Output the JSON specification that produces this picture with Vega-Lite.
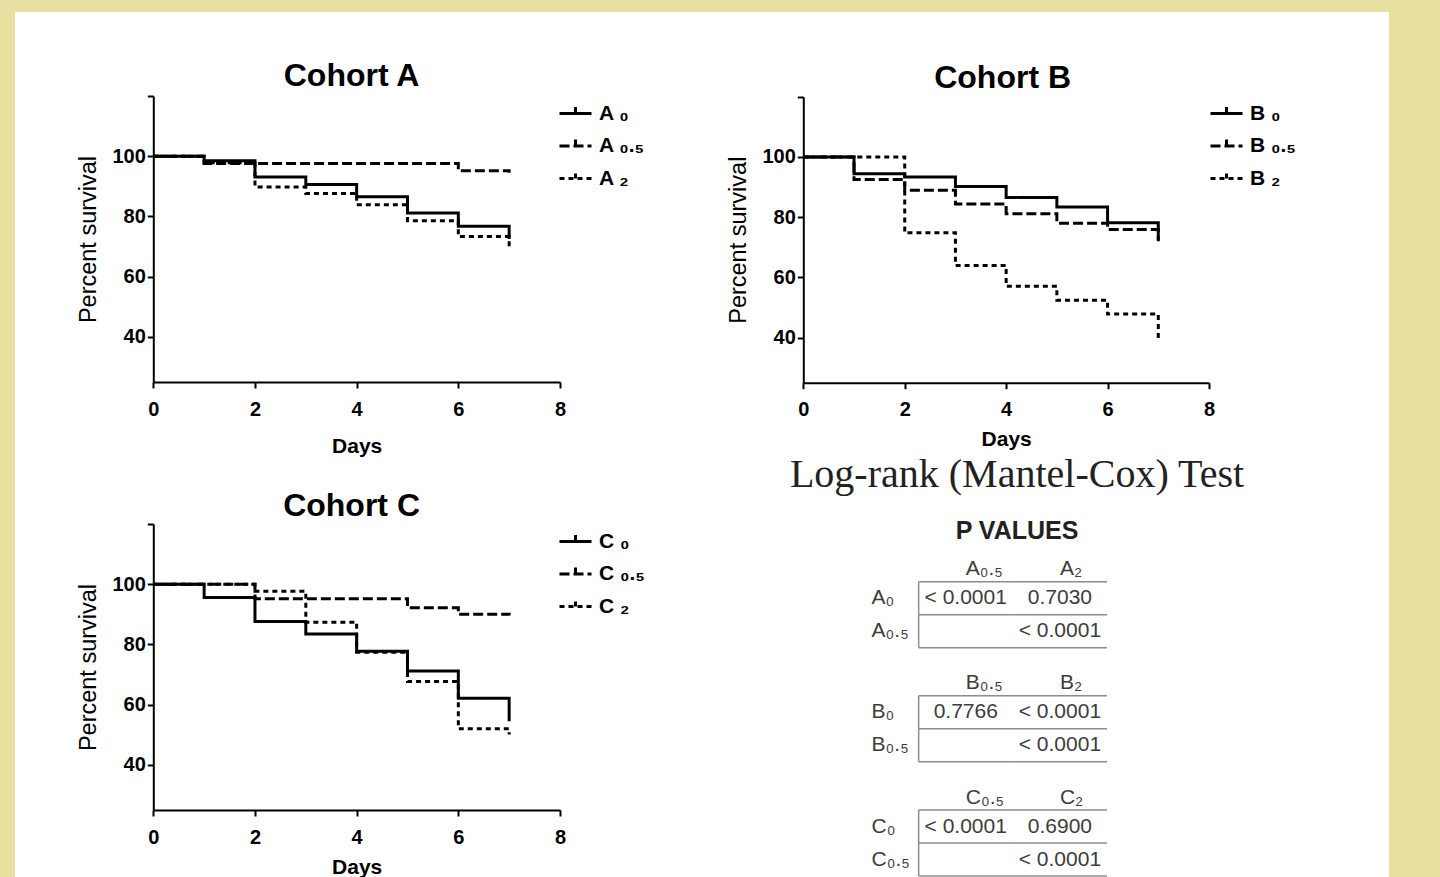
{
  "$schema": "https://vega.github.io/schema/vega-lite/v6.json",
  "width": 1374,
  "height": 865,
  "autosize": {"type": "none"},
  "padding": {"left": 15, "top": 12, "right": 51, "bottom": 0},
  "background": "#e8e0a0",
  "title": {
    "text": "Log-rank (Mantel-Cox) Test",
    "subtitle": "P VALUES",
    "orient": "top",
    "anchor": "middle",
    "frame": "group",
    "offset": -532,
    "dx": 315,
    "font": "Liberation Serif",
    "fontSize": 40,
    "fontWeight": "normal",
    "color": "#222222",
    "subtitleFont": "Liberation Sans",
    "subtitleFontSize": 25,
    "subtitleFontWeight": "bold",
    "subtitleColor": "#222222",
    "subtitlePadding": 24
  },
  "datasets": {
    "survival": [
      {"cohort": "A", "group": "A0", "day": 0, "survival": 100},
      {"cohort": "A", "group": "A0", "day": 1, "survival": 98.5},
      {"cohort": "A", "group": "A0", "day": 2, "survival": 93.1},
      {"cohort": "A", "group": "A0", "day": 3, "survival": 90.6},
      {"cohort": "A", "group": "A0", "day": 4, "survival": 86.5},
      {"cohort": "A", "group": "A0", "day": 5, "survival": 81.1},
      {"cohort": "A", "group": "A0", "day": 6, "survival": 76.7},
      {"cohort": "A", "group": "A0", "day": 7, "survival": 72.5},
      {"cohort": "A", "group": "A0.5", "day": 0, "survival": 100},
      {"cohort": "A", "group": "A0.5", "day": 1, "survival": 97.6},
      {"cohort": "A", "group": "A0.5", "day": 6, "survival": 95.2},
      {"cohort": "A", "group": "A0.5", "day": 7, "survival": 94.5},
      {"cohort": "A", "group": "A2", "day": 0, "survival": 100},
      {"cohort": "A", "group": "A2", "day": 1, "survival": 97.8},
      {"cohort": "A", "group": "A2", "day": 2, "survival": 89.8},
      {"cohort": "A", "group": "A2", "day": 3, "survival": 87.6},
      {"cohort": "A", "group": "A2", "day": 4, "survival": 83.9},
      {"cohort": "A", "group": "A2", "day": 5, "survival": 78.6},
      {"cohort": "A", "group": "A2", "day": 6, "survival": 73.3},
      {"cohort": "A", "group": "A2", "day": 7, "survival": 69.5},
      {"cohort": "B", "group": "B0", "day": 0, "survival": 100},
      {"cohort": "B", "group": "B0", "day": 1, "survival": 94.4},
      {"cohort": "B", "group": "B0", "day": 2, "survival": 93.3},
      {"cohort": "B", "group": "B0", "day": 3, "survival": 90.2},
      {"cohort": "B", "group": "B0", "day": 4, "survival": 86.5},
      {"cohort": "B", "group": "B0", "day": 5, "survival": 83.4},
      {"cohort": "B", "group": "B0", "day": 6, "survival": 78.1},
      {"cohort": "B", "group": "B0", "day": 7, "survival": 72.5},
      {"cohort": "B", "group": "B0.5", "day": 0, "survival": 100},
      {"cohort": "B", "group": "B0.5", "day": 1, "survival": 92.5},
      {"cohort": "B", "group": "B0.5", "day": 2, "survival": 88.9},
      {"cohort": "B", "group": "B0.5", "day": 3, "survival": 84.4},
      {"cohort": "B", "group": "B0.5", "day": 4, "survival": 81.1},
      {"cohort": "B", "group": "B0.5", "day": 5, "survival": 78},
      {"cohort": "B", "group": "B0.5", "day": 6, "survival": 75.9},
      {"cohort": "B", "group": "B0.5", "day": 7, "survival": 72},
      {"cohort": "B", "group": "B2", "day": 0, "survival": 100},
      {"cohort": "B", "group": "B2", "day": 2, "survival": 74.8},
      {"cohort": "B", "group": "B2", "day": 3, "survival": 63.9},
      {"cohort": "B", "group": "B2", "day": 4, "survival": 57},
      {"cohort": "B", "group": "B2", "day": 5, "survival": 52.4},
      {"cohort": "B", "group": "B2", "day": 6, "survival": 47.8},
      {"cohort": "B", "group": "B2", "day": 7, "survival": 38.9},
      {"cohort": "C", "group": "C0", "day": 0, "survival": 100},
      {"cohort": "C", "group": "C0", "day": 1, "survival": 95.6},
      {"cohort": "C", "group": "C0", "day": 2, "survival": 87.6},
      {"cohort": "C", "group": "C0", "day": 3, "survival": 83.5},
      {"cohort": "C", "group": "C0", "day": 4, "survival": 77.7},
      {"cohort": "C", "group": "C0", "day": 5, "survival": 71.2},
      {"cohort": "C", "group": "C0", "day": 6, "survival": 62.1},
      {"cohort": "C", "group": "C0", "day": 7, "survival": 54.5},
      {"cohort": "C", "group": "C0.5", "day": 0, "survival": 100},
      {"cohort": "C", "group": "C0.5", "day": 2, "survival": 95.2},
      {"cohort": "C", "group": "C0.5", "day": 5, "survival": 92.2},
      {"cohort": "C", "group": "C0.5", "day": 6, "survival": 90},
      {"cohort": "C", "group": "C0.5", "day": 7, "survival": 89.6},
      {"cohort": "C", "group": "C2", "day": 0, "survival": 100},
      {"cohort": "C", "group": "C2", "day": 2, "survival": 97.7},
      {"cohort": "C", "group": "C2", "day": 3, "survival": 87.4},
      {"cohort": "C", "group": "C2", "day": 4, "survival": 77.4},
      {"cohort": "C", "group": "C2", "day": 5, "survival": 67.7},
      {"cohort": "C", "group": "C2", "day": 6, "survival": 52},
      {"cohort": "C", "group": "C2", "day": 7, "survival": 50.1}
    ],
    "titles": [
      {"cohort": "A", "title": "Cohort A"},
      {"cohort": "B", "title": "Cohort B"},
      {"cohort": "C", "title": "Cohort C"}
    ],
    "pvalues": [
      {"cohort": "A", "row": "h", "col": "c1", "text": "A₀.₅"},
      {"cohort": "A", "row": "h", "col": "c2", "text": "A₂"},
      {"cohort": "A", "row": "r1", "col": "lab", "text": "A₀"},
      {"cohort": "A", "row": "r1", "col": "c1", "text": "< 0.0001"},
      {"cohort": "A", "row": "r1", "col": "c2", "text": "0.7030"},
      {"cohort": "A", "row": "r2", "col": "lab", "text": "A₀.₅"},
      {"cohort": "A", "row": "r2", "col": "c1", "text": ""},
      {"cohort": "A", "row": "r2", "col": "c2", "text": "< 0.0001"},
      {"cohort": "B", "row": "h", "col": "c1", "text": "B₀.₅"},
      {"cohort": "B", "row": "h", "col": "c2", "text": "B₂"},
      {"cohort": "B", "row": "r1", "col": "lab", "text": "B₀"},
      {"cohort": "B", "row": "r1", "col": "c1", "text": "0.7766"},
      {"cohort": "B", "row": "r1", "col": "c2", "text": "< 0.0001"},
      {"cohort": "B", "row": "r2", "col": "lab", "text": "B₀.₅"},
      {"cohort": "B", "row": "r2", "col": "c1", "text": ""},
      {"cohort": "B", "row": "r2", "col": "c2", "text": "< 0.0001"},
      {"cohort": "C", "row": "h", "col": "c1", "text": "C₀.₅"},
      {"cohort": "C", "row": "h", "col": "c2", "text": "C₂"},
      {"cohort": "C", "row": "r1", "col": "lab", "text": "C₀"},
      {"cohort": "C", "row": "r1", "col": "c1", "text": "< 0.0001"},
      {"cohort": "C", "row": "r1", "col": "c2", "text": "0.6900"},
      {"cohort": "C", "row": "r2", "col": "lab", "text": "C₀.₅"},
      {"cohort": "C", "row": "r2", "col": "c1", "text": ""},
      {"cohort": "C", "row": "r2", "col": "c2", "text": "< 0.0001"}
    ]
  },
  "layer": [
    {
      "data": {"name": "survival"},
      "transform": [{"filter": "datum.cohort == 'A'"}],
      "mark": {"type": "line", "interpolate": "step-after", "strokeWidth": 3, "color": "black"},
      "encoding": {
        "x": {"field": "day", "type": "quantitative", "scale": {"domain": [0, 8], "range": [138.3, 545], "nice": false},
              "axis": {"orient": "bottom", "offset": -495, "values": [0, 2, 4, 6, 8], "title": "Days", "titlePadding": 16}},
        "y": {"field": "survival", "type": "quantitative", "scale": {"domain": [25, 120], "range": [370, 84], "nice": false},
              "axis": {"orient": "left", "offset": -138.3, "values": [40, 60, 80, 100, 120], "labelExpr": "datum.value == 120 ? '' : datum.label", "title": "Percent survival"}},
        "strokeDash": {"field": "group", "type": "nominal",
                       "scale": {"domain": ["A0", "A0.5", "A2"], "range": [[1, 0], [10, 4], [5, 4]]},
                       "legend": {"orient": "none", "legendX": 543, "legendY": 84, "title": null,
                                  "labelExpr": "slice(datum.label, 0, 1) + ' ' + (slice(datum.label, 1) == '0' ? '₀' : slice(datum.label, 1) == '2' ? '₂' : '₀.₅')"}}
      }
    },
    {
      "data": {"name": "titles"},
      "transform": [{"filter": "datum.cohort == 'A'"}],
      "mark": {"type": "text", "fontSize": 32, "fontWeight": "bold", "baseline": "middle", "color": "black"},
      "encoding": {
        "text": {"field": "title", "type": "nominal"},
        "x": {"datum": 3.9, "type": "quantitative", "scale": {"domain": [0, 8], "range": [138.3, 545], "nice": false}, "axis": null},
        "y": {"datum": 126.5, "type": "quantitative", "scale": {"domain": [25, 120], "range": [370, 84], "nice": false}, "axis": null}
      }
    },
    {
      "data": {"name": "survival"},
      "transform": [{"filter": "datum.cohort == 'B'"}],
      "mark": {"type": "line", "interpolate": "step-after", "strokeWidth": 3, "color": "black"},
      "encoding": {
        "x": {"field": "day", "type": "quantitative", "scale": {"domain": [0, 8], "range": [788.3, 1194], "nice": false},
              "axis": {"orient": "bottom", "offset": -494.3, "values": [0, 2, 4, 6, 8], "title": "Days", "titlePadding": 9}},
        "y": {"field": "survival", "type": "quantitative", "scale": {"domain": [25, 120], "range": [370.7, 84.7], "nice": false},
              "axis": {"orient": "left", "offset": -788.3, "values": [40, 60, 80, 100, 120], "labelExpr": "datum.value == 120 ? '' : datum.label", "title": "Percent survival"}},
        "strokeDash": {"field": "group", "type": "nominal",
                       "scale": {"domain": ["B0", "B0.5", "B2"], "range": [[1, 0], [10, 4], [5, 4]]},
                       "legend": {"orient": "none", "legendX": 1194, "legendY": 84, "title": null,
                                  "labelExpr": "slice(datum.label, 0, 1) + ' ' + (slice(datum.label, 1) == '0' ? '₀' : slice(datum.label, 1) == '2' ? '₂' : '₀.₅')"}}
      }
    },
    {
      "data": {"name": "titles"},
      "transform": [{"filter": "datum.cohort == 'B'"}],
      "mark": {"type": "text", "fontSize": 32, "fontWeight": "bold", "baseline": "middle", "color": "black"},
      "encoding": {
        "text": {"field": "title", "type": "nominal"},
        "x": {"datum": 3.93, "type": "quantitative", "scale": {"domain": [0, 8], "range": [788.3, 1194], "nice": false}, "axis": null},
        "y": {"datum": 126.3, "type": "quantitative", "scale": {"domain": [25, 120], "range": [370.7, 84.7], "nice": false}, "axis": null}
      }
    },
    {
      "data": {"name": "survival"},
      "transform": [{"filter": "datum.cohort == 'C'"}],
      "mark": {"type": "line", "interpolate": "step-after", "strokeWidth": 3, "color": "black"},
      "encoding": {
        "x": {"field": "day", "type": "quantitative", "scale": {"domain": [0, 8], "range": [138.3, 545], "nice": false},
              "axis": {"orient": "bottom", "offset": -67, "values": [0, 2, 4, 6, 8], "title": "Days", "titlePadding": 9}},
        "y": {"field": "survival", "type": "quantitative", "scale": {"domain": [25, 120], "range": [798, 512], "nice": false},
              "axis": {"orient": "left", "offset": -138.3, "values": [40, 60, 80, 100, 120], "labelExpr": "datum.value == 120 ? '' : datum.label", "title": "Percent survival"}},
        "strokeDash": {"field": "group", "type": "nominal",
                       "scale": {"domain": ["C0", "C0.5", "C2"], "range": [[1, 0], [10, 4], [5, 4]]},
                       "legend": {"orient": "none", "legendX": 543, "legendY": 512, "title": null,
                                  "labelExpr": "slice(datum.label, 0, 1) + ' ' + (slice(datum.label, 1) == '0' ? '₀' : slice(datum.label, 1) == '2' ? '₂' : '₀.₅')"}}
      }
    },
    {
      "data": {"name": "titles"},
      "transform": [{"filter": "datum.cohort == 'C'"}],
      "mark": {"type": "text", "fontSize": 32, "fontWeight": "bold", "baseline": "middle", "color": "black"},
      "encoding": {
        "text": {"field": "title", "type": "nominal"},
        "x": {"datum": 3.9, "type": "quantitative", "scale": {"domain": [0, 8], "range": [138.3, 545], "nice": false}, "axis": null},
        "y": {"datum": 126, "type": "quantitative", "scale": {"domain": [25, 120], "range": [798, 512], "nice": false}, "axis": null}
      }
    },
    {
      "data": {"name": "pvalues"},
      "layer": [
        {
          "layer": [
            {
              "transform": [{"filter": "datum.col == 'lab'"}],
              "mark": {"type": "text", "align": "left", "baseline": "middle", "fontSize": 21, "color": "#3c3c3c"},
              "encoding": {
                "x": {"field": "col", "type": "nominal", "scale": {"domain": ["lab", "c1", "c2"], "range": [809.5, 1092], "paddingInner": 0, "paddingOuter": 0}, "axis": null},
                "y": {"field": "cohort", "type": "nominal", "scale": {"domain": ["A", "B", "C"], "range": [536.7, 864], "paddingInner": 0.133, "paddingOuter": 0}, "axis": null},
                "yOffset": {"field": "row", "type": "nominal", "scale": {"domain": ["h", "r1", "r2"], "paddingInner": 0, "paddingOuter": 0}},
                "text": {"field": "text", "type": "nominal"}
              }
            },
            {
              "transform": [{"filter": "datum.row == 'h'"}],
              "mark": {"type": "text", "align": "left", "baseline": "middle", "dy": 4, "fontSize": 21, "color": "#3c3c3c"},
              "encoding": {
                "x": {"field": "col", "type": "nominal", "axis": null},
                "y": {"field": "cohort", "type": "nominal", "axis": null},
                "yOffset": {"field": "row", "type": "nominal"},
                "text": {"field": "text", "type": "nominal"}
              }
            },
            {
              "transform": [{"filter": "datum.row != 'h' && datum.col != 'lab'"}],
              "mark": {"type": "text", "align": "center", "baseline": "middle", "fontSize": 21, "color": "#3c3c3c"},
              "encoding": {
                "x": {"field": "col", "type": "nominal", "axis": null},
                "y": {"field": "cohort", "type": "nominal", "axis": null},
                "yOffset": {"field": "row", "type": "nominal"},
                "text": {"field": "text", "type": "nominal"}
              }
            },
            {
              "transform": [{"filter": "datum.row != 'h' && datum.col == 'lab'"}],
              "mark": {"type": "tick", "orient": "vertical", "size": 33, "thickness": 1.5, "color": "#8c8c8c", "opacity": 1},
              "encoding": {
                "x": {"field": "col", "type": "nominal", "bandPosition": 1, "axis": null},
                "y": {"field": "cohort", "type": "nominal", "axis": null},
                "yOffset": {"field": "row", "type": "nominal"}
              }
            }
          ]
        },
        {
          "transform": [{"filter": "datum.col != 'lab'"}],
          "mark": {"type": "tick", "orient": "horizontal", "size": 94.2, "thickness": 1.5, "color": "#8c8c8c", "opacity": 1},
          "encoding": {
            "x": {"field": "col", "type": "nominal", "axis": null},
            "y": {"field": "cohort", "type": "nominal", "axis": null},
            "yOffset": {"field": "row", "type": "nominal", "scale": {"type": "point", "domain": ["top", "h", "r1", "r2"], "padding": 0}}
          }
        }
      ],
      "resolve": {"scale": {"yOffset": "independent"}}
    }
  ],
  "resolve": {
    "scale": {"x": "independent", "y": "independent", "strokeDash": "independent"},
    "axis": {"x": "independent", "y": "independent"},
    "legend": {"strokeDash": "independent"}
  },
  "config": {
    "view": {"fill": "white", "stroke": null},
    "text": {"font": "Liberation Sans"},
    "axis": {
      "grid": false,
      "domainColor": "black",
      "domainWidth": 2,
      "tickColor": "black",
      "tickWidth": 2,
      "tickSize": 6,
      "labelFont": "Liberation Sans",
      "labelFontSize": 20,
      "labelFontWeight": "bold",
      "labelColor": "black",
      "labelFlush": false,
      "titleFont": "Liberation Sans",
      "titleFontSize": 21,
      "titleColor": "black"
    },
    "axisX": {"labelPadding": 11, "labelAngle": 0, "titleFontWeight": "bold"},
    "axisY": {"labelPadding": 2, "titleFontWeight": "normal", "titleFontSize": 23.5, "titlePadding": 11},
    "legend": {
      "symbolType": "M-1,0H1M0,0V-0.4",
      "symbolSize": 1024,
      "symbolStrokeWidth": 3,
      "symbolStrokeColor": "black",
      "symbolFillColor": "transparent",
      "labelFont": "Liberation Sans",
      "labelFontSize": 21,
      "labelFontWeight": "bold",
      "labelColor": "black",
      "labelOffset": 6,
      "rowPadding": 4.5
    }
  }
}
